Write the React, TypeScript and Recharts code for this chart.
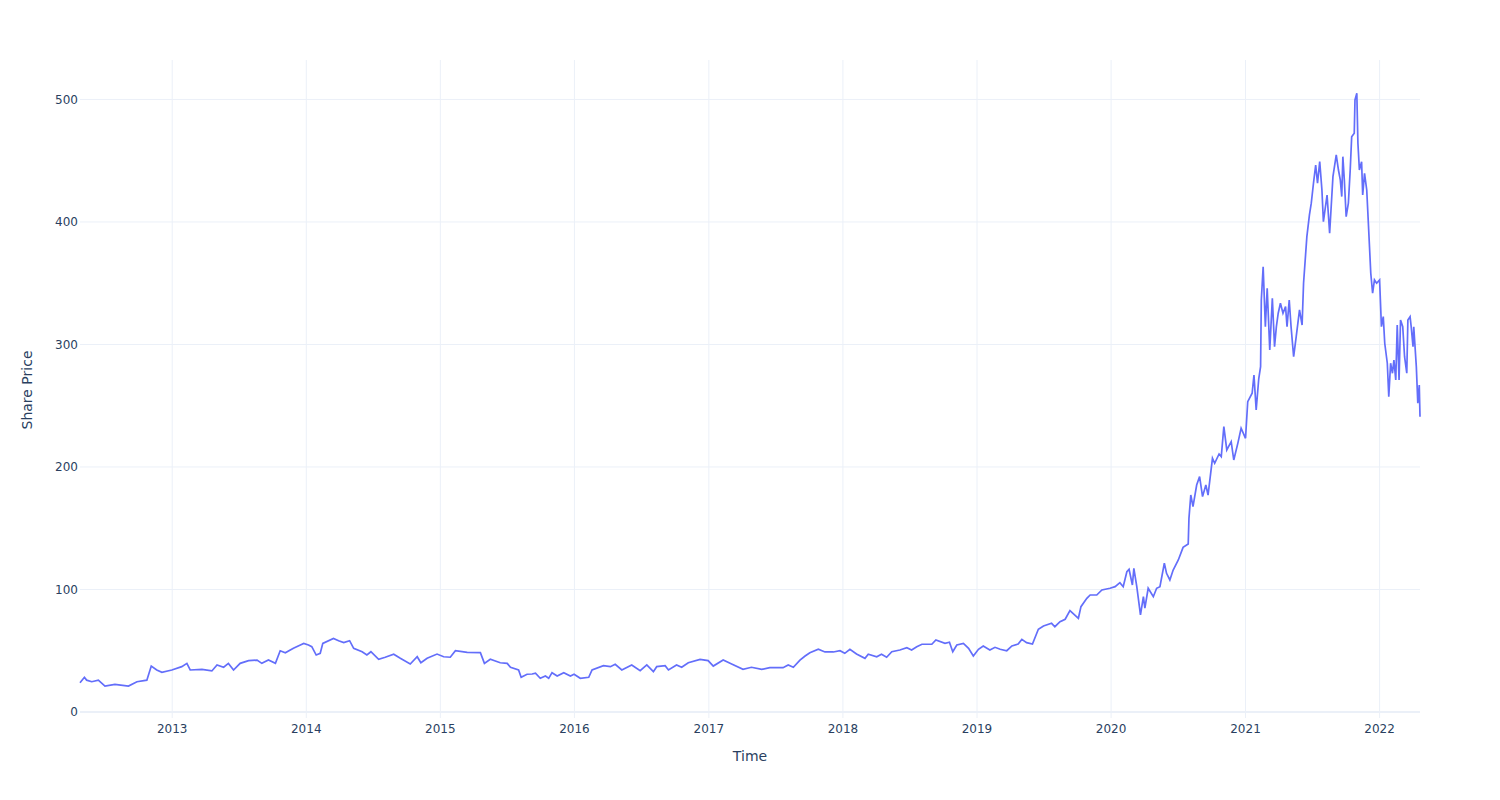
import React from 'react';
import { LineChart, Line, XAxis, YAxis, ReferenceLine } from 'recharts';

const dates: string[] = [
  '2012-04-25','2012-05-07','2012-05-13','2012-05-27','2012-06-14','2012-07-02','2012-07-29','2012-09-04','2012-09-27','2012-10-24',
  '2012-11-05','2012-11-20','2012-12-04','2012-12-31','2013-01-27','2013-02-10','2013-02-19','2013-03-23','2013-04-19','2013-05-03',
  '2013-05-21','2013-06-03','2013-06-17','2013-07-05','2013-07-28','2013-08-20','2013-09-02','2013-09-20','2013-10-09','2013-10-22',
  '2013-11-05','2013-11-27','2013-12-16','2013-12-25','2014-01-07','2014-01-16','2014-01-28','2014-02-08','2014-02-15','2014-03-16',
  '2014-03-30','2014-04-13','2014-04-29','2014-05-10','2014-06-02','2014-06-15','2014-06-26','2014-07-17','2014-08-04','2014-08-27',
  '2014-09-14','2014-10-11','2014-10-30','2014-11-09','2014-11-26','2014-12-23','2015-01-10','2015-01-28','2015-02-11','2015-03-15',
  '2015-04-20','2015-05-01','2015-05-17','2015-06-13','2015-07-02','2015-07-11','2015-08-02','2015-08-09','2015-08-25','2015-09-08',
  '2015-09-17','2015-09-30','2015-10-14','2015-10-23','2015-11-01','2015-11-15','2015-12-03','2015-12-21','2015-12-31','2016-01-17',
  '2016-02-09','2016-02-18','2016-03-20','2016-04-08','2016-04-21','2016-05-09','2016-06-05','2016-06-28','2016-07-16','2016-08-03',
  '2016-08-12','2016-09-04','2016-09-13','2016-10-05','2016-10-19','2016-11-06','2016-12-08','2016-12-30','2017-01-13','2017-02-09',
  '2017-03-04','2017-04-04','2017-04-27','2017-05-25','2017-06-16','2017-07-22','2017-08-05','2017-08-19','2017-09-06','2017-09-20',
  '2017-10-03','2017-10-26','2017-11-13','2017-12-06','2017-12-24','2018-01-06','2018-01-20','2018-02-07','2018-03-02','2018-03-11',
  '2018-04-03','2018-04-16','2018-04-30','2018-05-14','2018-06-05','2018-06-24','2018-07-07','2018-07-21','2018-08-04','2018-08-31',
  '2018-09-11','2018-10-06','2018-10-18','2018-10-27','2018-11-07','2018-11-25','2018-12-09','2018-12-22','2019-01-05','2019-01-18',
  '2019-02-05','2019-02-19','2019-03-05','2019-03-23','2019-04-06','2019-04-23','2019-05-03','2019-05-16','2019-06-01','2019-06-17',
  '2019-07-01','2019-07-23','2019-08-01','2019-08-15','2019-08-29','2019-09-11','2019-10-04','2019-10-11','2019-10-27','2019-11-05',
  '2019-11-23','2019-12-07','2019-12-29','2020-01-12','2020-01-25','2020-02-03','2020-02-13','2020-02-19','2020-02-28','2020-03-03',
  '2020-03-11','2020-03-21','2020-03-29','2020-04-02','2020-04-11','2020-04-25','2020-05-04','2020-05-13','2020-05-25','2020-05-31',
  '2020-06-09','2020-06-18','2020-07-02','2020-07-15','2020-07-29','2020-07-31','2020-08-05','2020-08-11','2020-08-21','2020-08-29',
  '2020-09-06','2020-09-15','2020-09-21','2020-10-03','2020-10-09','2020-10-21','2020-10-27','2020-11-03','2020-11-11','2020-11-23',
  '2020-11-30','2020-12-11','2020-12-20','2021-01-01','2021-01-07','2021-01-19','2021-01-24','2021-01-30','2021-02-06','2021-02-11',
  '2021-02-13','2021-02-18','2021-02-24','2021-03-01','2021-03-08','2021-03-15','2021-03-21','2021-03-26','2021-03-31','2021-04-06',
  '2021-04-13','2021-04-20','2021-04-24','2021-04-30','2021-05-05','2021-05-12','2021-05-19','2021-05-28','2021-06-04','2021-06-08',
  '2021-06-17','2021-06-24','2021-06-29','2021-07-05','2021-07-11','2021-07-16','2021-07-22','2021-07-28','2021-08-01','2021-08-11',
  '2021-08-18','2021-08-27','2021-09-05','2021-09-11','2021-09-16','2021-09-20','2021-09-23','2021-09-27','2021-10-02','2021-10-08',
  '2021-10-13','2021-10-17','2021-10-24','2021-10-26','2021-10-31','2021-11-03','2021-11-07','2021-11-13','2021-11-16','2021-11-21',
  '2021-11-27','2021-12-01','2021-12-08','2021-12-13','2021-12-18','2021-12-24','2022-01-01','2022-01-06','2022-01-11','2022-01-15',
  '2022-01-22','2022-01-26','2022-01-31','2022-02-05','2022-02-09','2022-02-14','2022-02-18','2022-02-23','2022-02-27','2022-03-05',
  '2022-03-10','2022-03-16','2022-03-19','2022-03-25','2022-03-28','2022-04-02','2022-04-04','2022-04-11','2022-04-15','2022-04-19',
  '2022-04-21',
];

const prices: number[] = [
  23.9,28.3,26.0,24.7,26.0,21.2,22.6,21.2,24.7,26.0,
  37.5,34.3,32.4,34.3,37.0,39.7,34.3,34.8,33.5,38.4,
  36.5,39.7,34.3,39.7,41.9,42.4,39.7,42.4,39.7,50.0,
  48.4,52.0,54.7,56.0,54.7,53.3,46.5,47.9,56.0,60.1,
  58.2,56.6,58.2,52.0,49.2,46.5,49.2,43.0,44.7,47.1,
  43.8,39.2,45.1,40.2,43.8,47.3,45.1,44.7,50.0,48.7,
  48.4,39.7,43.0,40.2,39.7,36.5,34.3,28.3,30.8,31.0,
  31.6,27.5,29.4,27.5,32.1,29.4,32.1,29.4,30.8,27.5,
  28.3,34.3,37.8,37.0,38.9,34.3,38.4,33.7,38.4,32.9,
  37.0,37.8,34.3,38.4,36.5,40.2,43.0,41.9,37.5,42.4,
  39.2,34.8,36.5,34.8,36.2,36.2,38.4,36.5,42.4,45.7,
  48.4,51.2,49.0,49.0,50.0,47.9,51.2,47.3,43.8,47.1,
  45.1,47.1,44.7,49.2,50.6,52.5,50.6,53.3,55.3,55.3,
  58.8,56.0,56.9,49.2,54.7,56.0,52.0,45.7,51.2,53.9,
  50.6,52.8,51.2,50.0,53.9,55.5,59.3,56.6,55.5,67.5,
  70.2,72.4,69.6,73.7,75.7,82.7,76.5,86.0,92.8,95.5,
  95.5,99.6,101.0,102.3,105.6,102.3,114.5,116.5,103.7,117.3,
  102.3,79.2,94.1,84.7,101.0,94.1,101.0,102.3,121.4,113.2,
  107.8,115.9,124.1,134.4,137.1,158.1,177.1,167.6,185.3,192.1,
  175.8,185.3,177.1,207.1,203.0,210.6,208.4,232.9,213.9,220.7,
  205.7,219.3,231.6,223.4,253.3,260.2,275.1,246.5,272.0,281.9,
  336.3,363.5,314.5,345.9,295.5,337.7,298.2,314.5,325.5,333.6,
  325.5,330.9,314.5,336.3,314.5,290.0,306.4,328.2,315.9,350.0,
  388.0,405.7,415.3,431.6,446.5,431.6,449.2,426.1,400.2,422.0,
  390.8,437.0,454.7,442.4,434.3,420.7,453.3,434.3,404.3,415.3,
  442.4,469.6,472.4,499.6,505.0,464.2,442.4,449.2,422.0,439.7,
  426.1,401.6,358.1,341.8,352.7,350.0,352.7,314.5,322.7,301.0,
  284.7,257.4,284.7,276.5,287.3,271.0,315.9,271.0,320.0,314.5,
  290.0,276.5,320.0,322.7,314.5,298.2,314.5,281.9,252.0,266.9,
  241.0,
];

const yearTicks: number[] = [2013, 2014, 2015, 2016, 2017, 2018, 2019, 2020, 2021, 2022];
const priceTicks: number[] = [0, 100, 200, 300, 400, 500];

const data = dates.map((d, i) => ({ t: Date.parse(d), price: prices[i] }));
const xTicks = yearTicks.map((y) => Date.UTC(y, 0, 1));

const FONT = '"DejaVu Sans", Verdana, sans-serif';
const TEXT = '#2a3f5f';
const GRID = '#EBF0F8';

export default function App() {
  return (
    <div style={{ position: 'absolute', left: 0, top: 0, width: 1500, height: 800, background: '#fff', fontFamily: FONT }}>
      <LineChart width={1500} height={800} data={data} margin={{ top: 60, right: 80, bottom: 0, left: 0 }}>
        <XAxis
          dataKey="t"
          type="number"
          scale="linear"
          domain={['dataMin', 'dataMax']}
          ticks={xTicks}
          tickFormatter={(v: number) => String(new Date(v).getUTCFullYear())}
          height={82}
          axisLine={false}
          tickLine={false}
          tickSize={0}
          tickMargin={6}
          tick={{ fill: TEXT, fontSize: 12, fontFamily: FONT }}
          interval={0}
        />
        <YAxis
          type="number"
          domain={[-4.9, 532.2]}
          ticks={priceTicks}
          allowDataOverflow
          width={80}
          axisLine={false}
          tickLine={false}
          tickSize={0}
          tickMargin={2}
          tick={{ fill: TEXT, fontSize: 12, fontFamily: FONT }}
          interval={0}
        />
        {xTicks.map((t) => (
          <ReferenceLine key={'vx' + t} x={t} stroke={GRID} strokeWidth={1} />
        ))}
        {priceTicks.filter((v) => v !== 0).map((v) => (
          <ReferenceLine key={'hy' + v} y={v} stroke={GRID} strokeWidth={1} />
        ))}
        <ReferenceLine y={0} stroke={GRID} strokeWidth={2} />
        <Line
          type="linear"
          dataKey="price"
          stroke="#636efa"
          strokeWidth={1.7}
          dot={false}
          isAnimationActive={false}
        />
      </LineChart>
      <div style={{ position: 'absolute', left: 750, top: 756, transform: 'translate(-50%, -50%)', fontSize: 14, color: TEXT, whiteSpace: 'nowrap' }}>
        Time
      </div>
      <div style={{ position: 'absolute', left: 27, top: 390, transform: 'translate(-50%, -50%) rotate(-90deg)', fontSize: 14, color: TEXT, whiteSpace: 'nowrap' }}>
        Share Price
      </div>
    </div>
  );
}
